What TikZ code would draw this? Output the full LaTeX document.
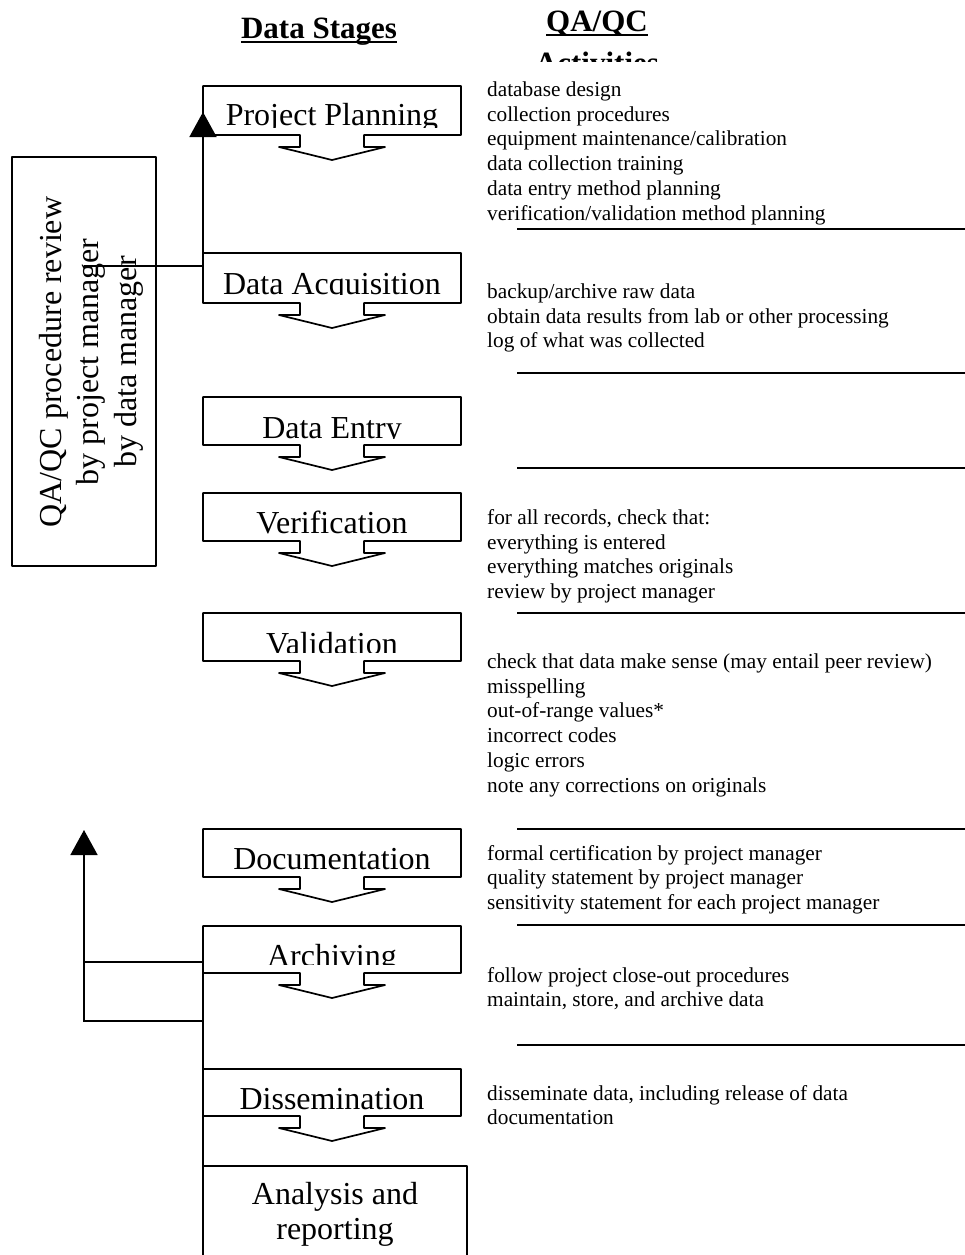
\documentclass[tikz,border=0pt]{standalone}
\usepackage{fontspec}
\setmainfont{Liberation Serif}
\usetikzlibrary{arrows.meta,calc}

\tikzset{
  boxline/.style={line width=1.7pt, line join=round},
  conn/.style={line width=1.7pt},
  stagenode/.style={rectangle, inner sep=0pt, outer sep=0pt, minimum width=258pt},
  stagelabel/.style={anchor=base, inner sep=0pt, font=\fontsize{32}{37.5}\selectfont},
  note/.style={anchor=base west, inner sep=0pt, font=\fontsize{21.3}{24.7}\selectfont},
  sepline/.style={line width=2pt},
  head/.style={anchor=base, inner sep=0pt, font=\fontsize{31}{36}\selectfont\bfseries},
  tiphead/.style={-{Triangle[width=27pt,length=25pt]}},
}

\newcommand\stagebox[6]{%
  \node[stagenode, minimum height={#3-#2}] (#1) at (332,{(#2+#3)/2}) {};
  \begin{scope}
    \clip (203,#2) rectangle (461,#6);
    \node[stagelabel] (#1txt) at (332,#5) {#4};
  \end{scope}
  \draw[boxline] (#1.north west) -- (#1.north east) -- (#1.south east)
    -- ++(-97,0) -- ++(0,12) -- ++(21,0) -- ++(-53,13) -- ++(-53,-13)
    -- ++(21,0) -- ++(0,-12) -- (#1.south west) -- cycle;
}

\begin{document}
\begin{tikzpicture}[x=1pt,y=-1pt]
\useasboundingbox (0,0) rectangle (965,1255);
\clip (0,0) rectangle (965,1255);

% headers
\node[head] (hds) at (319,38) {Data Stages};
\draw[line width=1.8pt] ($(hds.base west)+(0,3.8)$) -- ($(hds.base east)+(0,3.8)$);
\node[head] (hqa) at (597,31.5) {QA/QC};
\draw[line width=1.8pt] ($(hqa.base west)+(0,3.2)$) -- ($(hqa.base east)+(0,3.2)$);
\begin{scope}
  \clip (520,42) rectangle (680,62);
  \node[head] (hact) at (597,74) {Activities};
\end{scope}

% stage boxes
\stagebox{pp}{86}{135}{Project Planning}{125}{127}
\stagebox{da}{253}{303}{Data Acquisition}{294}{294}
\stagebox{de}{397}{445}{Data Entry}{438}{438}
\stagebox{ve}{493}{541}{Verification}{533}{541}
\stagebox{vl}{613}{661}{Validation}{654}{652}
\stagebox{dc}{829}{877}{Documentation}{869}{877}
\stagebox{ac}{926}{973}{Archiving}{966}{964}
\stagebox{ds}{1069}{1116}{Dissemination}{1109}{1116}

\node[draw, boxline, rectangle, inner sep=0pt, outer sep=0pt, minimum width=264pt, minimum height=140pt] (ar) at (335,1236) {};
\node[anchor=base, inner sep=0pt, font=\fontsize{32}{35}\selectfont] (artxt) at (335,1204)
  {\begin{tabular}[t]{@{}c@{}}Analysis and\\reporting\end{tabular}};

% QA/QC review box
\node[draw, boxline, rectangle, inner sep=0pt, outer sep=0pt, minimum width=144pt, minimum height=409pt] (qa) at (84,361.5) {};
\node[rotate=90, align=center, inner sep=0pt, font=\fontsize{32}{37.5}\selectfont] (qatxt) at (91,362)
  {QA/QC procedure review\\by project manager\\by data manager};

% connectors
\coordinate (qajoin) at (84,266);
\coordinate (pptip) at (203,112);
\draw[conn, tiphead] (qajoin) -- (qajoin -| da.west) -- (pptip);

\coordinate (backtip) at (84,830);
\coordinate (j1) at (84,962);
\coordinate (j2) at (84,1021);
\draw[conn] (j1 -| ac.west) -- (j1);
\draw[conn, tiphead] (j2 -| ac.west) -- (j2) -- (backtip);
\draw[conn] (ac.south west) -- (ar.north west);

% QA/QC activities
\node[note] (npp) at (487,96.5) {\begin{tabular}[t]{@{}l@{}}database design\\collection procedures\\equipment maintenance/calibration\\data collection training\\data entry method planning\\verification/validation method planning\end{tabular}};
\node[note] (nda) at (487,298.5) {\begin{tabular}[t]{@{}l@{}}backup/archive raw data\\obtain data results from lab or other processing\\log of what was collected\end{tabular}};
\node[note] (nve) at (487,524.5) {\begin{tabular}[t]{@{}l@{}}for all records, check that:\\everything is entered\\everything matches originals\\review by project manager\end{tabular}};
\node[note] (nvl) at (487,668.5) {\begin{tabular}[t]{@{}l@{}}check that data make sense (may entail peer review)\\misspelling\\out-of-range values*\\incorrect codes\\logic errors\\note any corrections on originals\end{tabular}};
\node[note] (ndc) at (487,860) {\begin{tabular}[t]{@{}l@{}}formal certification by project manager\\quality statement by project manager\\sensitivity statement for each project manager\end{tabular}};
\node[note] (nac) at (487,982) {\begin{tabular}[t]{@{}l@{}}follow project close-out procedures\\maintain, store, and archive data\end{tabular}};
\node[note] (nds) at (487,1100) {\begin{tabular}[t]{@{}l@{}}disseminate data, including release of data\\documentation\end{tabular}};

% separators
\foreach \yy in {229,373,468,613,829,925,1045}
  \draw[sepline] (517,\yy) -- (965,\yy);

\end{tikzpicture}
\end{document}
